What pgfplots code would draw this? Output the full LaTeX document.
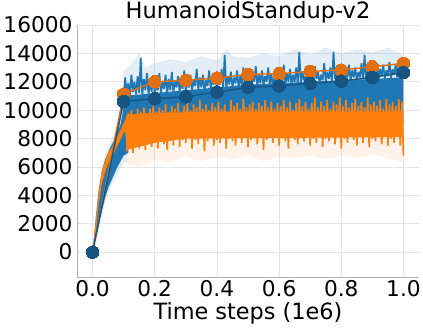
\documentclass[border=0pt]{standalone}
\usepackage{fontspec}
\setmainfont{DejaVu Sans}
\usepackage{pgfplots}
\pgfplotsset{compat=1.18}
\definecolor{cblue}{HTML}{1F77B4}
\definecolor{corange}{HTML}{FF7F0E}
\definecolor{mblue}{RGB}{22,84,130}
\definecolor{morange}{RGB}{224,112,18}
\begin{document}
\begin{tikzpicture}
\begin{axis}[
 at={(0,0)}, anchor=south west,
 scale only axis, width=342pt, height=252.5pt,
 xmin=-0.05, xmax=1.05, ymin=-1790, ymax=16000,
 axis x line*=bottom, axis y line*=left,
 axis line style={draw=black!30, line width=0.8pt},
 grid=major, major grid style={draw=black!10, line width=0.8pt},
 major tick length=0pt,
 xtick={0,0.2,0.4,0.6,0.8,1.0},
 ytick={0,2000,4000,6000,8000,10000,12000,14000,16000},
 scaled ticks=false,
 /pgf/number format/assume math mode=true,
 yticklabel style={/pgf/number format/1000 sep={}, inner sep=0pt, anchor=east, xshift=-4.3pt},
 xticklabel style={/pgf/number format/fixed, /pgf/number format/fixed zerofill, /pgf/number format/precision=1, inner sep=0pt, anchor=north, yshift=-3pt},
 tick label style={font=\fontsize{21.7}{26}\selectfont},
 xlabel={Time steps (1e6)},
 xlabel style={at={(axis description cs:0.5,0)}, anchor=base, yshift=-42pt, inner sep=0pt, font=\fontsize{22.4}{26}\selectfont},
 title={HumanoidStandup-v2},
 title style={at={(axis description cs:0.5,1)}, anchor=base, yshift=0pt, inner sep=0pt, font=\fontsize{22.5}{26}\selectfont},
]
% light blue std band
\addplot[fill=cblue, fill opacity=0.13, draw=none] coordinates {
(0,0)(0.01,2700)(0.02,4800)(0.04,6900)(0.06,7900)(0.08,8800)(0.095,9900)(0.1,12800)(0.12,13100)(0.15,14000)(0.17,13000)(0.2,13300)(0.25,13600)(0.3,13400)(0.35,13800)(0.4,13500)(0.43,14300)(0.45,13800)(0.5,13700)(0.55,14000)(0.6,13800)(0.65,14300)(0.7,13900)(0.75,14400)(0.8,14000)(0.85,14300)(0.9,14100)(0.95,14400)(1.0,13900)
(1.0,9000)(0.12,9000)(0.11,6300)(0.1,6300)(0.08,5500)(0.06,4700)(0.04,3500)(0.02,1500)(0.01,500)(0,0)} -- cycle;
% light orange std band
\addplot[fill=corange, fill opacity=0.09, draw=none] coordinates {
(0.11,9000)(1.0,9000)(1.0,6300)(0.95,6600)(0.9,6900)(0.85,6600)(0.8,6800)(0.75,6500)(0.7,6800)(0.65,6600)(0.6,6700)(0.55,6400)(0.5,6800)(0.45,6500)(0.4,6700)(0.35,6400)(0.3,6800)(0.25,6300)(0.2,6500)(0.15,6000)(0.11,6200)} -- cycle;
% blue raw: core
\addplot[fill=cblue, draw=none] coordinates {
(0,0)(0.01,2300)(0.02,4400)(0.03,5700)(0.04,6500)(0.05,7000)(0.06,7500)(0.07,7900)(0.08,8400)(0.09,9000)(0.097,9800)
(0.1,11000)(0.2,11200)(0.3,11400)(0.4,11600)(0.5,11800)(0.6,11900)(0.7,12000)(0.8,12100)(0.9,12200)(1.0,12300)
(1.0,9000)(0.12,9000)(0.115,7000)(0.1,6800)(0.09,6400)(0.08,6000)(0.07,5500)(0.06,5000)(0.05,4500)(0.04,3800)(0.03,2900)(0.02,1900)(0.01,900)(0,0)} -- cycle;
% blue raw: noise
\addplot[cblue, line width=1.7pt, line join=bevel] table[row sep=\\, header=false, x expr=0.1+0.005*\coordindex, y index=0] {
10900\\12300\\11200\\11900\\11000\\12500\\11300\\12000\\11100\\12400\\
11200\\13700\\11000\\12200\\11400\\12600\\11100\\12000\\11300\\12400\\
11000\\12100\\11400\\12600\\11200\\12000\\11500\\12500\\11100\\12200\\
11400\\12700\\11200\\12100\\11600\\12400\\11300\\12000\\11500\\12800\\
11200\\12200\\11600\\12500\\11300\\12100\\11700\\12900\\11400\\12300\\
11600\\12500\\11300\\12100\\11700\\12800\\11500\\12200\\11800\\12600\\
11400\\12300\\11800\\12900\\11600\\13900\\11500\\12400\\11800\\12700\\
11600\\12300\\11900\\12800\\11500\\12400\\11800\\13000\\11700\\12500\\
11900\\12800\\11600\\12300\\12000\\13100\\11700\\12500\\11900\\12800\\
11700\\12400\\12000\\13000\\11800\\12600\\11600\\12300\\12000\\12900\\
11800\\12500\\12000\\13200\\11700\\12600\\12000\\12900\\11800\\12500\\
12000\\13000\\11800\\14100\\11900\\12700\\12100\\12400\\11800\\13000\\
12100\\12600\\11900\\13100\\12200\\12700\\11900\\12500\\12100\\13300\\
12000\\12700\\12200\\13000\\11900\\14100\\12200\\12800\\12000\\12600\\
12200\\13100\\12000\\12700\\12300\\13200\\12100\\12800\\12300\\13000\\
12100\\12700\\12300\\13300\\12200\\13900\\12000\\12800\\12300\\13100\\
12200\\12800\\12400\\13300\\12100\\12900\\12400\\13200\\12200\\12800\\
12400\\13400\\12200\\12900\\12500\\13200\\12300\\13500\\12400\\13000\\
12500\\
};
% orange raw: core
\addplot[fill=corange, draw=none] coordinates {
(0,0)(0.01,2100)(0.02,4300)(0.03,5700)(0.04,6400)(0.05,7000)(0.06,7300)(0.07,7700)(0.08,8200)(0.09,8600)(0.1,9100)(0.105,9300)
(0.11,9700)(0.2,9800)(0.4,9900)(1.0,9900)
(1.0,8100)(0.3,8000)(0.2,7700)(0.11,7200)
(0.105,8500)(0.1,8400)(0.09,7900)(0.08,7500)(0.07,7000)(0.06,6600)(0.05,6200)(0.04,5600)(0.03,4800)(0.02,3400)(0.01,1300)(0,0)} -- cycle;
% orange raw: noise
\addplot[corange, line width=1.7pt, line join=bevel] table[row sep=\\, header=false, x expr=0.11+0.005*\coordindex, y index=0] {
7100\\9800\\7400\\10000\\7000\\9700\\7600\\10100\\7300\\9900\\
7500\\10200\\7200\\9800\\7700\\10100\\7400\\10300\\7800\\9900\\
7300\\10200\\7900\\10000\\7600\\10400\\7200\\9900\\7800\\10300\\
7500\\10100\\8000\\10500\\7400\\9900\\7900\\10300\\7700\\10600\\
8100\\10000\\7300\\10400\\7900\\10200\\7600\\10700\\8000\\10100\\
7100\\10400\\7800\\10000\\8100\\10500\\7500\\10200\\7900\\10600\\
7700\\10100\\8200\\10400\\7300\\9900\\8000\\10700\\7800\\10300\\
7500\\10500\\8100\\10100\\7700\\10800\\8200\\10200\\7400\\10400\\
7900\\10600\\8000\\10100\\7600\\10500\\8300\\10300\\7200\\10700\\
7900\\10200\\8100\\10600\\7700\\10100\\8200\\10500\\7500\\10300\\
8000\\10700\\7800\\10200\\7300\\10600\\8200\\10000\\7900\\10500\\
7600\\10800\\8100\\10300\\7800\\10600\\8300\\10100\\7500\\10500\\
8000\\10900\\7700\\10200\\8200\\10600\\7400\\10300\\8000\\10700\\
7800\\10100\\8300\\10600\\7600\\10400\\8100\\10900\\7300\\10300\\
8000\\10700\\7700\\10200\\8300\\10500\\7900\\10800\\7500\\10300\\
8100\\10600\\7700\\10200\\8200\\10900\\7400\\10400\\8000\\10600\\
7800\\10300\\8300\\10700\\7600\\10100\\8100\\10800\\7500\\10400\\
8000\\10600\\7700\\10300\\8200\\10800\\7500\\10600\\6800\\
};
% mean curves
\addplot[morange, line width=1.4pt, mark=*, mark size=6.3pt, mark options={fill=morange, draw=morange, line width=0pt}] coordinates {
(0,0)(0.1,11135)(0.2,12000)(0.3,12100)(0.4,12262)(0.5,12520)(0.6,12570)(0.7,12730)(0.8,12825)(0.9,13060)(1.0,13300)};
\addplot[mblue, line width=1.4pt, mark=*, mark size=6.3pt, mark options={fill=mblue, draw=mblue, line width=0pt}] coordinates {
(0,0)(0.1,10620)(0.2,10805)(0.3,10945)(0.4,11275)(0.5,11605)(0.6,11700)(0.7,11890)(0.8,12050)(0.9,12310)(1.0,12660)};
\end{axis}
\pgfresetboundingbox
\path (-77pt,-50.5pt) rectangle (346pt,277.5pt);
\end{tikzpicture}
\end{document}
